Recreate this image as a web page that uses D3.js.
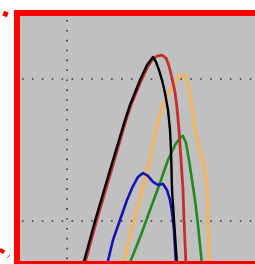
<!DOCTYPE html>
<html>
<head>
<meta charset="utf-8">
<script src="https://cdn.jsdelivr.net/npm/d3@7"></script>
<style>
  html, body { margin: 0; padding: 0; background: #fff; }
  svg { display: block; }
</style>
</head>
<body>
<script>
// grid positions (data units)
const xGrid = [0];
const yGrid = [0, 1];

// traces as [x, y] pairs
const blackSeries = [[0.16,-0.310],[0.28,0.000],[0.43,0.359],[0.58,0.711],[0.63,0.817],[0.73,0.993],[0.80,1.099],[0.86,1.155],[0.89,1.120],[0.92,1.063],[0.95,0.993],[0.98,0.901],[1.01,0.782],[1.03,0.641],[1.04,0.500],[1.05,0.218],[1.07,0.007],[1.10,-0.310]];
const redSeries = [[0.175,-0.310],[0.295,0.000],[0.445,0.359],[0.59,0.711],[0.64,0.817],[0.735,0.979],[0.80,1.077],[0.85,1.134],[0.90,1.162],[0.95,1.169],[0.99,1.148],[1.02,1.092],[1.05,1.007],[1.08,0.908],[1.10,0.796],[1.12,0.641],[1.14,0.430],[1.16,0.218],[1.17,0.007],[1.19,-0.310]];
const orangeSeries = [[0.56,-0.310],[0.63,-0.099],[0.70,0.077],[0.78,0.289],[0.83,0.430],[0.90,0.676],[0.96,0.817],[1.03,0.923],[1.09,0.993],[1.15,1.028],[1.19,1.021],[1.23,0.887],[1.26,0.746],[1.29,0.606],[1.34,0.465],[1.38,0.359],[1.40,0.254],[1.41,0.007],[1.42,-0.310]];
const greenSeries = [[0.62,-0.310],[0.74,-0.099],[0.83,0.077],[0.93,0.268],[1.01,0.430],[1.08,0.535],[1.13,0.585],[1.16,0.599],[1.19,0.549],[1.22,0.430],[1.25,0.289],[1.28,0.148],[1.31,-0.028],[1.35,-0.310]];
const blueSeries = [[0.40,-0.310],[0.46,-0.134],[0.53,0.007],[0.60,0.148],[0.66,0.246],[0.71,0.310],[0.76,0.338],[0.81,0.317],[0.86,0.275],[0.91,0.254],[0.96,0.261],[1.00,0.218],[1.03,0.148],[1.05,0.063],[1.07,-0.063],[1.09,-0.310]];

const width = 255, height = 264;
const plotL = 20, plotT = 16, plotR = 255, plotB = 261;

const svg = d3.select("body").append("svg")
    .attr("width", width)
    .attr("height", height);

const x = d3.scaleLinear().domain([-0.47, 1.88]).range([plotL, plotR]);
const y = d3.scaleLinear().domain([-0.282, 1.444]).range([plotB, plotT]);

svg.append("clipPath").attr("id", "plot")
  .append("rect")
    .attr("x", plotL).attr("y", plotT)
    .attr("width", plotR - plotL).attr("height", plotB - plotT);

// gray plot area
svg.append("rect")
    .attr("x", plotL).attr("y", plotT)
    .attr("width", plotR - plotL).attr("height", plotB - plotT)
    .attr("fill", "#c0c0c0");

// dotted grid
const grid = svg.append("g").attr("clip-path", "url(#plot)")
    .attr("stroke", "#3a3a3a")
    .attr("stroke-width", 1.6)
    .attr("stroke-dasharray", "1.6,8.3");

grid.selectAll(".gx").data(xGrid).enter().append("line")
    .attr("x1", d => x(d)).attr("x2", d => x(d))
    .attr("y1", plotT + 4).attr("y2", plotB);

grid.selectAll(".gy").data(yGrid).enter().append("line")
    .attr("x1", plotL + 2).attr("x2", plotR)
    .attr("y1", d => y(d)).attr("y2", d => y(d));

// traces
const line = d3.line().x(d => x(d[0])).y(d => y(d[1]));

const traces = [
  { data: orangeSeries, color: "#f2b460", w: 3.2 },
  { data: greenSeries, color: "#1f8a22", w: 2.6 },
  { data: blueSeries, color: "#1414b4", w: 2.6 },
  { data: redSeries, color: "#c42e2e", w: 2.8 },
  { data: blackSeries, color: "#000000", w: 2.4 }
];

svg.append("g").attr("clip-path", "url(#plot)")
  .selectAll("path")
  .data(traces)
  .enter().append("path")
    .attr("d", d => line(d.data))
    .attr("fill", "none")
    .attr("stroke", d => d.color)
    .attr("stroke-width", d => d.w)
    .attr("stroke-linejoin", "round");

// red frame
svg.append("rect")
    .attr("x", 17).attr("y", 13)
    .attr("width", 260).attr("height", 251)
    .attr("fill", "none")
    .attr("stroke", "#ff0000")
    .attr("stroke-width", 6);

// little red marks at the left
svg.append("rect")
    .attr("x", -2.5).attr("y", -2.5).attr("width", 5).attr("height", 5)
    .attr("transform", "translate(5.5,14) rotate(20)")
    .attr("fill", "#ff0000");
svg.append("rect")
    .attr("x", -2.5).attr("y", -2).attr("width", 5).attr("height", 4)
    .attr("transform", "translate(2,251) rotate(30)")
    .attr("fill", "#ff0000");
svg.append("line")
    .attr("x1", 7).attr("y1", 258).attr("x2", 10).attr("y2", 255)
    .attr("stroke", "#ff3030").attr("stroke-width", 1);
</script>
</body>
</html>
